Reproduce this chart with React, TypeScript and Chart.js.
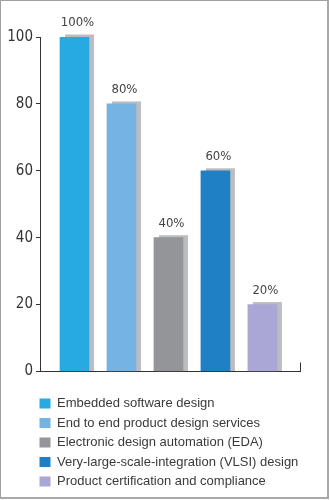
import React, { useEffect, useRef } from "react";
import { Chart, registerables } from "chart.js";
Chart.register(...registerables);

const categories = [
  "Embedded software design",
  "End to end product design services",
  "Electronic design automation (EDA)",
  "Very-large-scale-integration (VLSI) design",
  "Product certification and compliance",
];
const values = [100, 80, 40, 60, 20];
const valueLabels = ["100%", "80%", "40%", "60%", "20%"];
const yTicks = [0, 20, 40, 60, 80, 100];
const barColors = ["#27a9e1", "#75b3e3", "#939598", "#2080c6", "#aaa6d6"];
const shadowColor = "#bcbdbf";

const NARROW = "'Liberation Sans Narrow', 'DejaVu Sans Condensed', 'Liberation Sans', sans-serif";
const SANS = "'Liberation Sans', Arial, sans-serif";

export default function App() {
  const ref = useRef<HTMLCanvasElement | null>(null);
  useEffect(() => {
    if (!ref.current) return;
    const shadowPlugin = {
      id: "shadow",
      beforeDatasetsDraw(chart: any) {
        const ctx = chart.ctx;
        const meta = chart.getDatasetMeta(0);
        ctx.save();
        ctx.fillStyle = shadowColor;
        meta.data.forEach((el: any) => {
          const { x, y, base, width } = el.getProps(["x", "y", "base", "width"], true);
          ctx.fillRect(x - width / 2 + 5, y - 2.5, width, base - y + 2.5);
        });
        ctx.restore();
      },
      afterDatasetsDraw(chart: any) {
        const ctx = chart.ctx;
        const meta = chart.getDatasetMeta(0);
        ctx.save();
        ctx.fillStyle = "#444";
        ctx.font = "13px " + NARROW;
        ctx.textAlign = "center";
        ctx.textBaseline = "middle";
        meta.data.forEach((el: any, i: number) => {
          ctx.fillText(valueLabels[i], el.x + 3, el.y - 14);
        });
        ctx.restore();
      },
      afterLayout(chart: any) {
        const l = chart.legend;
        if (l) {
          l.left -= 7;
          l.right += 28;
        }
      },
      afterDraw(chart: any) {
        const { ctx, chartArea } = chart;
        ctx.save();
        ctx.strokeStyle = "#333";
        ctx.lineWidth = 1;
        ctx.beginPath();
        ctx.moveTo(chartArea.right + 0.5, chartArea.bottom);
        ctx.lineTo(chartArea.right + 0.5, chartArea.bottom - 9);
        ctx.stroke();
        ctx.restore();
      },
    };
    const chart = new Chart(ref.current, {
      type: "bar",
      data: {
        datasets: [
          {
            data: values.map((v, i) => ({ x: i + 1, y: v })),
            backgroundColor: barColors,
            barThickness: 29,
          },
        ],
      },
      options: {
        animation: false,
        responsive: false,
        devicePixelRatio: 1,
        layout: { padding: { top: 37, right: 30, bottom: 2, left: 0 } },
        scales: {
          x: {
            type: "linear",
            offset: false,
            min: 0.266,
            max: 5.8,
            ticks: { display: false },
            grid: { display: false },
            border: { display: true, color: "#333", width: 1 },
            afterFit(s: any) {
              s.height = 19;
            },
          },
          y: {
            min: 0,
            max: 100,
            afterBuildTicks(s: any) {
              s.ticks = yTicks.map((v) => ({ value: v }));
            },
            afterFit(s: any) {
              s.width = 40;
            },
            ticks: {
              color: "#333",
              padding: 3,
              font: { family: NARROW, size: 15 },
            },
            grid: { drawOnChartArea: false, tickLength: 4, color: "#333" },
            border: { display: true, color: "#333", width: 1 },
          },
        },
        plugins: {
          tooltip: { enabled: false },
          legend: {
            position: "bottom",
            align: "start",
            fullSize: false,
            labels: {
              boxWidth: 11,
              boxHeight: 10,
              padding: 6.5,
              color: "#3a3a3a",
              font: { family: SANS, size: 13 },
              generateLabels: () =>
                categories.map((c, i) => ({
                  text: c,
                  fillStyle: barColors[i],
                  strokeStyle: barColors[i],
                  lineWidth: 0,
                  hidden: false,
                  index: i,
                  fontColor: "#3a3a3a",
                })),
            },
          },
        },
      } as any,
      plugins: [shadowPlugin],
    });
    return () => chart.destroy();
  }, []);
  return (
    <div style={{ position: "fixed", left: 0, top: 0, width: 330, height: 500, background: "#fff" }}>
      <canvas ref={ref} width={330} height={500} style={{ display: "block" }} />
      <div
        style={{
          position: "absolute",
          left: 0,
          top: 0,
          width: 329,
          height: 499,
          boxSizing: "border-box",
          borderTop: "1px solid #a0a0a0",
          borderLeft: "1px solid #a0a0a0",
          borderBottom: "2px solid #a8a8a8",
          borderRight: "2px solid #a8a8a8",
          pointerEvents: "none",
        }}
      />
    </div>
  );
}
